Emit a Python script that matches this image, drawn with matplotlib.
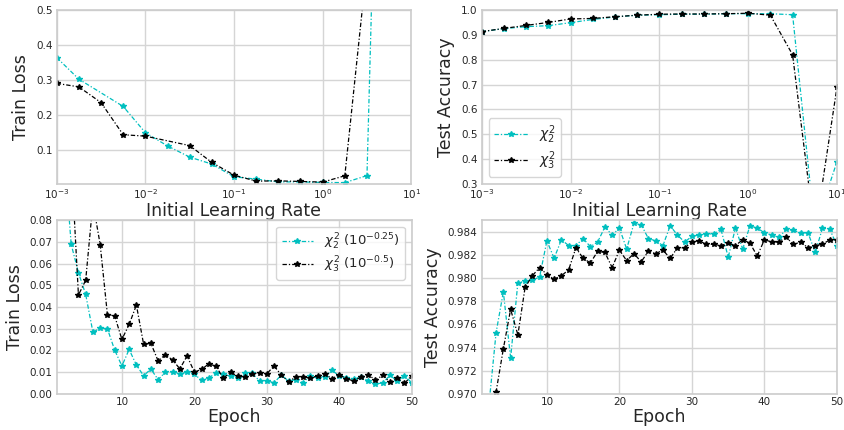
import numpy as np
import matplotlib.pyplot as plt
from matplotlib.ticker import NullLocator, FormatStrFormatter

# learning-rate sweep (log10 of initial learning rate)
lr_exp = [-3, -2.75, -2.5, -2.25, -2, -1.75, -1.5, -1.25, -1, -0.75, -0.5, -0.25, 0, 0.25, 0.5, 0.75, 1]

# train loss vs lr (some runs are missing a point)
loss_c2_exp = [-3, -2.75, -2.25, -2, -1.75, -1.5, -1.25, -1, -0.75, -0.5, -0.25, 0, 0.25, 0.5, 0.75, 1]
loss_c2 = [0.364, 0.302, 0.224, 0.149, 0.111, 0.079, 0.059, 0.0226, 0.016, 0.008, 0.008, 0.0064, 0.006, 0.026, 2.4, 2.4]
loss_c3_exp = [-3, -2.75, -2.5, -2.25, -2, -1.5, -1.25, -1, -0.75, -0.5, -0.25, 0, 0.25, 0.5, 0.75, 1]
loss_c3 = [0.290, 0.280, 0.235, 0.143, 0.139, 0.112, 0.0637, 0.0274, 0.0102, 0.011, 0.0093, 0.0074, 0.0255, 0.63, 2.3, 2.3]

# test accuracy vs lr
acc_c2 = [0.913, 0.925, 0.933, 0.937, 0.949, 0.962, 0.972, 0.979, 0.981, 0.983, 0.983, 0.985, 0.985, 0.985, 0.981, 0.12, 0.39]
acc_c3 = [0.913, 0.926, 0.938, 0.950, 0.964, 0.966, 0.973, 0.979, 0.983, 0.984, 0.984, 0.985, 0.987, 0.979, 0.820, 0.10, 0.69]

# per-epoch curves
epochs = list(range(1, 51))
ep_loss_c2 = [0.25, 0.112, 0.0688, 0.0558, 0.0458, 0.0284, 0.0303, 0.0300, 0.0202, 0.0129,
              0.0205, 0.0133, 0.0084, 0.0115, 0.0066, 0.0101, 0.0103, 0.0093, 0.0100, 0.0090,
              0.0064, 0.0074, 0.0097, 0.0092, 0.0081, 0.0072, 0.0098, 0.0095, 0.0060, 0.0060,
              0.0052, 0.0087, 0.0060, 0.0066, 0.0052, 0.0083, 0.0072, 0.0080, 0.0109, 0.0083,
              0.0075, 0.0069, 0.0080, 0.0060, 0.0046, 0.0051, 0.0086, 0.0060, 0.0084, 0.0052]
ep_loss_c3 = [0.30, 0.20, 0.108, 0.0455, 0.0523, 0.088, 0.0687, 0.0365, 0.0359, 0.0251,
              0.0320, 0.0409, 0.0228, 0.0233, 0.0152, 0.0181, 0.0156, 0.0116, 0.0175, 0.0101,
              0.0113, 0.0139, 0.0127, 0.0072, 0.0101, 0.0081, 0.0080, 0.0092, 0.0098, 0.0093,
              0.0129, 0.0087, 0.0057, 0.0078, 0.0078, 0.0074, 0.0083, 0.0092, 0.0070, 0.0089,
              0.0070, 0.0060, 0.0078, 0.0089, 0.0064, 0.0086, 0.0054, 0.0074, 0.0049, 0.0084]
ep_acc_c2 = [0.955, 0.9690, 0.9753, 0.9788, 0.9731, 0.9796, 0.9797, 0.9798, 0.9801, 0.9832,
             0.9817, 0.9833, 0.9828, 0.9828, 0.9834, 0.9827, 0.9831, 0.9844, 0.9837, 0.9843,
             0.9825, 0.9847, 0.9846, 0.9834, 0.9832, 0.9828, 0.9845, 0.9837, 0.9831, 0.9836,
             0.9837, 0.9838, 0.9838, 0.9842, 0.9818, 0.9843, 0.9825, 0.9845, 0.9843, 0.9839,
             0.9837, 0.9835, 0.9842, 0.9841, 0.9839, 0.9839, 0.9822, 0.9843, 0.9842, 0.9828]
ep_acc_c3 = [0.950, 0.962, 0.9702, 0.9739, 0.9773, 0.9751, 0.9792, 0.9802, 0.9809, 0.9803,
             0.9799, 0.9802, 0.9807, 0.9826, 0.9817, 0.9813, 0.9823, 0.9822, 0.9809, 0.9824,
             0.9815, 0.9821, 0.9814, 0.9823, 0.9821, 0.9824, 0.9817, 0.9826, 0.9826, 0.9831,
             0.9832, 0.9829, 0.9829, 0.9828, 0.9830, 0.9828, 0.9833, 0.9830, 0.9819, 0.9833,
             0.9831, 0.9831, 0.9835, 0.9829, 0.9831, 0.9826, 0.9828, 0.9829, 0.9833, 0.9833]

plt.rcParams.update({
    'font.family': 'DejaVu Sans',
    'axes.edgecolor': '#cccccc',
    'axes.linewidth': 1.2,
    'grid.color': '#d5d5d5',
    'grid.linewidth': 1.0,
    'text.color': '#262626',
    'axes.labelcolor': '#262626',
    'xtick.color': '#262626',
    'ytick.color': '#262626',
    'xtick.labelsize': 7.5,
    'ytick.labelsize': 7.5,
    'axes.labelsize': 12.5,
    'xtick.major.size': 0,
    'ytick.major.size': 0,
    'xtick.major.pad': 2,
    'ytick.major.pad': 3,
    'mathtext.fontset': 'dejavusans',
})

W, H = 845, 430
fig = plt.figure(figsize=(W / 100, H / 100), dpi=100)


def make_ax(l, r, t, b):
    return fig.add_axes([l / W, 1 - b / H, (r - l) / W, (b - t) / H])


ax_tl = make_ax(56.7, 411.3, 10, 184)
ax_tr = make_ax(481.7, 837, 10, 184)
ax_bl = make_ax(56.7, 411.7, 220, 394)
ax_br = make_ax(481.6, 837, 220, 394)

dashdot = (0, (3.5, 1.6, 1, 1.6))
c2_style = dict(color='c', linestyle=dashdot, linewidth=0.9, marker='*', markersize=4.2)
c3_style = dict(color='k', linestyle=dashdot, linewidth=0.9, marker='*', markersize=4.2)
leg_style = dict(frameon=True, edgecolor='#cccccc', handlelength=2.4,
                 labelspacing=0.2, handletextpad=0.8, borderpad=0.4)

lr = 10.0 ** np.array(lr_exp)

# top left: train loss vs lr
ax_tl.plot(10.0 ** np.array(loss_c2_exp), loss_c2, **c2_style)
ax_tl.plot(10.0 ** np.array(loss_c3_exp), loss_c3, **c3_style)
ax_tl.set_xscale('log')
ax_tl.set_xlim(1e-3, 1e1)
ax_tl.set_ylim(0.002, 0.5)
ax_tl.set_yticks([0.1, 0.2, 0.3, 0.4, 0.5])
ax_tl.set_xlabel('Initial Learning Rate', labelpad=1)
ax_tl.set_ylabel('Train Loss')

# top right: test accuracy vs lr
ax_tr.plot(lr, acc_c2, label=r'$\chi_2^2$', **c2_style)
ax_tr.plot(lr, acc_c3, label=r'$\chi_3^2$', **c3_style)
ax_tr.set_xscale('log')
ax_tr.set_xlim(1e-3, 1e1)
ax_tr.set_ylim(0.3, 1.0)
ax_tr.set_yticks(np.arange(3, 11) / 10)
ax_tr.set_xlabel('Initial Learning Rate', labelpad=1)
ax_tr.set_ylabel('Test Accuracy')
ax_tr.legend(loc='lower left', fontsize=10, **leg_style)

# bottom left: train loss per epoch
ax_bl.plot(epochs, ep_loss_c2, label=r'$\chi_2^2\ (10^{-0.25})$', **c2_style)
ax_bl.plot(epochs, ep_loss_c3, label=r'$\chi_3^2\ (10^{-0.5})$', **c3_style)
ax_bl.set_xlim(1, 50)
ax_bl.set_ylim(0, 0.08)
ax_bl.set_xticks([10, 20, 30, 40, 50])
ax_bl.yaxis.set_major_formatter(FormatStrFormatter('%.2f'))
ax_bl.set_xlabel('Epoch', labelpad=1)
ax_bl.set_ylabel('Train Loss')
ax_bl.legend(loc='upper right', fontsize=9.5, **leg_style)

# bottom right: test accuracy per epoch
ax_br.plot(epochs, ep_acc_c2, **c2_style)
ax_br.plot(epochs, ep_acc_c3, **c3_style)
ax_br.set_xlim(1, 50)
ax_br.set_ylim(0.970, 0.985)
ax_br.set_xticks([10, 20, 30, 40, 50])
ax_br.set_yticks(np.arange(970, 985, 2) / 1000)
ax_br.yaxis.set_major_formatter(FormatStrFormatter('%.3f'))
ax_br.set_xlabel('Epoch', labelpad=1)
ax_br.set_ylabel('Test Accuracy')

for ax in (ax_tl, ax_tr, ax_bl, ax_br):
    ax.set_facecolor('white')
    ax.grid(True)
    ax.set_axisbelow(True)
    ax.xaxis.set_minor_locator(NullLocator())

fig.savefig('out.png', dpi=100)
